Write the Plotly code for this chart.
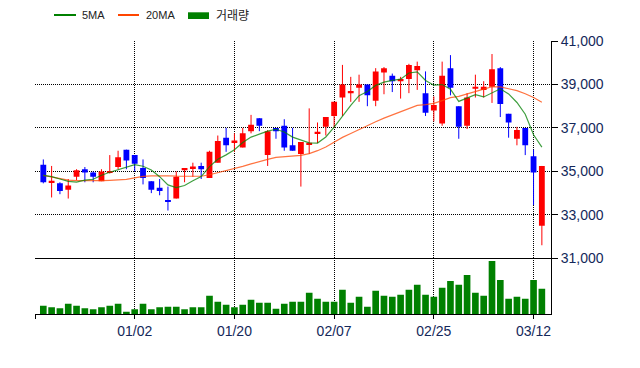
import plotly.graph_objects as go

# ---------------- data ----------------
opens = [35300, 34500, 34450, 34150, 34750, 35100, 34950, 34550, 34950, 35200,
         36000, 35750, 35150, 34550, 34250, 33650, 33750, 35050, 35150, 35250,
         34700, 35400, 36550, 36350, 36100, 36850, 37450, 35750, 37000, 37100,
         36200, 35800, 36250, 36750, 37050, 37550, 38400, 38600, 38850, 39000,
         38250, 39550, 39400, 39150, 39250, 39650, 38600, 37800, 37200, 39750,
         38000, 37100, 38800, 38750, 38900, 39750, 37650, 36500, 37000, 35700,
         32500]
highs = [35550, 35250, 34500, 34650, 35100, 35200, 35000, 35100, 35750, 35950,
         36000, 35750, 35550, 34550, 34650, 34300, 35000, 35150, 35400, 35400,
         35950, 36650, 37000, 36750, 37000, 37600, 37450, 36900, 37000, 37400,
         37000, 36350, 37900, 37250, 37500, 38200, 39900, 39350, 39450, 39000,
         39750, 39800, 39500, 39350, 39950, 40050, 39600, 38450, 40050, 40350,
         38000, 38600, 39450, 39150, 40400, 39800, 37650, 37050, 37000, 36000,
         35250]
lows = [34450, 33800, 33950, 33750, 34600, 34500, 34500, 34550, 34900, 35100,
        35100, 35000, 34400, 34000, 33900, 33200, 33750, 34500, 34750, 34650,
        34700, 35400, 35900, 35900, 36100, 36750, 36850, 35250, 36500, 35950,
        35950, 34300, 35800, 36300, 36650, 37000, 37550, 38200, 38200, 38000,
        38000, 38550, 38650, 38350, 38600, 38750, 37550, 37300, 37100, 38500,
        36500, 36950, 38400, 38400, 38150, 37500, 36550, 36200, 35750, 33450,
        31600]
closes = [34500, 34550, 34100, 34350, 35050, 34950, 34750, 35000, 35000, 35650,
          35500, 35350, 34700, 34150, 34100, 33600, 34750, 35150, 35200, 35100,
          35900, 36400, 36200, 36400, 36750, 37150, 37100, 36850, 36850, 36100,
          35950, 36350, 36300, 36800, 37500, 38200, 39000, 38700, 39000, 38500,
          39600, 39750, 39150, 39250, 39900, 39850, 37700, 38050, 39400, 38850,
          37050, 38400, 38900, 38900, 39700, 38100, 37250, 36900, 36200, 34950,
          35250]
ma5 = [34820, 34760, 34650, 34540, 34505, 34597, 34637, 34824, 34959, 35079,
       35189, 35306, 35238, 35060, 34757, 34379, 34253, 34352, 34569, 34763,
       35220, 35557, 35760, 35999, 36330, 36579, 36714, 36852, 36938, 36812,
       36576, 36432, 36315, 36303, 36585, 37033, 37558, 38042, 38484, 38680,
       38957, 39104, 39190, 39245, 39528, 39583, 39181, 38966, 38994, 38779,
       38220, 38362, 38527, 38426, 38595, 38800, 38567, 38171, 37632, 36687,
       36119]
ma20 = [34820, 34740, 34670, 34600, 34570, 34560, 34560, 34570, 34590, 34600,
        34630, 34700, 34770, 34790, 34800, 34800, 34780, 34780, 34775, 34776,
        34846, 34938, 35043, 35147, 35232, 35342, 35458, 35550, 35642, 35665,
        35688, 35739, 35820, 35952, 36123, 36352, 36565, 36742, 36931, 37102,
        37286, 37452, 37600, 37743, 37901, 38037, 38069, 38128, 38256, 38393,
        38448, 38551, 38681, 38787, 38895, 38890, 38803, 38714, 38574, 38397,
        38181]
volume = [83000, 67000, 57000, 103000, 83000, 57000, 47000, 67000, 83000, 103000,
          23000, 47000, 103000, 47000, 67000, 73000, 73000, 47000, 67000, 67000,
          183000, 123000, 93000, 67000, 93000, 143000, 113000, 113000, 53000, 103000,
          123000, 123000, 213000, 153000, 123000, 123000, 243000, 113000, 173000, 73000,
          233000, 183000, 173000, 193000, 243000, 293000, 193000, 173000, 263000, 333000,
          293000, 393000, 213000, 183000, 533000, 343000, 153000, 173000, 153000, 343000,
          253000]
tick_pos = [-1, 11, 23, 35, 47, 59]
tick_text = ['', '01/02', '01/20', '02/07', '02/25', '03/12']
price_ticks = [31000, 33000, 35000, 37000, 39000, 41000]
legend_names = ['5MA', '20MA', '거래량']

# ---------------- styles ----------------
RED = '#FF0000'
BLUE = '#0000FF'
GREEN = '#008000'
ORANGE = '#FF4500'
TXT = '#14285a'
FONT = 'Liberation Sans, Arial, sans-serif'

n = len(closes)
idx = list(range(n))
is_up = [c > o for o, c in zip(opens, closes)]
body_base = [min(o, c) for o, c in zip(opens, closes)]
body_h = [max(abs(c - o), 70) for o, c in zip(opens, closes)]
body_col = [RED if u else BLUE for u in is_up]

fig = go.Figure()

# wicks
for flag, col in ((True, RED), (False, BLUE)):
    wx, wy = [], []
    for i in idx:
        if is_up[i] == flag:
            wx += [i, i, None]
            wy += [lows[i], highs[i], None]
    fig.add_trace(go.Scatter(x=wx, y=wy, mode='lines', line=dict(color=col, width=1),
                             xaxis='x', yaxis='y', showlegend=False, hoverinfo='skip'))

# bodies
fig.add_trace(go.Bar(x=idx, y=body_h, base=body_base, width=0.7,
                     marker=dict(color=body_col, line=dict(width=0)),
                     xaxis='x', yaxis='y', showlegend=False))

# moving averages
fig.add_trace(go.Scatter(x=idx, y=ma20, mode='lines', line=dict(color=ORANGE, width=1.2),
                         opacity=0.75, xaxis='x', yaxis='y', showlegend=False))
fig.add_trace(go.Scatter(x=idx, y=ma5, mode='lines', line=dict(color=GREEN, width=1.2),
                         opacity=0.75, xaxis='x', yaxis='y', showlegend=False))

# volume
fig.add_trace(go.Bar(x=idx, y=volume, width=0.8, marker=dict(color=GREEN, line=dict(width=0)),
                     xaxis='x2', yaxis='y2', showlegend=False))

L, R, T, B = 35, 89, 41, 54
W, H = 640, 368
PW, PH = W - L - R, H - T - B
split = (H - B - 258.3) / PH


def px_x(px):
    return (px - L) / PW


def px_y(py):
    return (H - B - py) / PH


grid = dict(showgrid=True, gridcolor='black', gridwidth=1, griddash='1px,1px')

fig.update_layout(
    width=W, height=H,
    margin=dict(l=L, r=R, t=T, b=B),
    paper_bgcolor='white', plot_bgcolor='white',
    barmode='overlay', showlegend=False,
    font=dict(family=FONT, color=TXT, size=14),
    xaxis=dict(domain=[0, 1], anchor='y', range=[-1.0, 61.1], tickvals=tick_pos,
               showticklabels=False, ticks='', showline=True, linecolor='black',
               linewidth=1, zeroline=False, **grid),
    yaxis=dict(domain=[split, 1], anchor='x', side='right', range=[31000, 41000],
               tickvals=price_ticks, tickformat=',d', ticks='outside', ticklen=6,
               tickcolor='black', showline=True, linecolor='black', linewidth=1,
               zeroline=False, tickfont=dict(size=14, color=TXT, family=FONT), **grid),
    xaxis2=dict(domain=[0, 1], anchor='y2', matches='x', tickvals=tick_pos, ticktext=tick_text,
                ticks='outside', ticklen=4, tickcolor='black', showline=True,
                linecolor='black', linewidth=1, zeroline=False,
                tickfont=dict(size=14, color=TXT, family=FONT), **grid),
    yaxis2=dict(domain=[0, split], anchor='x2', side='right', range=[0, 560000],
                showticklabels=False, ticks='', showline=True, linecolor='black',
                linewidth=1, showgrid=False, zeroline=False),
)

# legend drawn at top
ly = px_y(15)
fig.add_shape(type='line', xref='paper', yref='paper', x0=px_x(54), x1=px_x(76), y0=ly, y1=ly,
              line=dict(color=GREEN, width=2))
fig.add_shape(type='line', xref='paper', yref='paper', x0=px_x(118), x1=px_x(139), y0=ly, y1=ly,
              line=dict(color=ORANGE, width=2))
fig.add_shape(type='rect', xref='paper', yref='paper', x0=px_x(188), x1=px_x(209),
              y0=px_y(19), y1=px_y(12.3), fillcolor=GREEN, line=dict(width=0))
for name, xp, fam, sz in ((legend_names[0], 80, FONT, 11), (legend_names[1], 144, FONT, 11),
                          (legend_names[2], 214, 'Noto Sans CJK KR', 12)):
    fig.add_annotation(x=px_x(xp), y=ly, xref='paper', yref='paper', text=name, showarrow=False,
                       xanchor='left', yanchor='middle', font=dict(family=fam, size=sz, color='#222222'))

fig.write_html('out.html')
